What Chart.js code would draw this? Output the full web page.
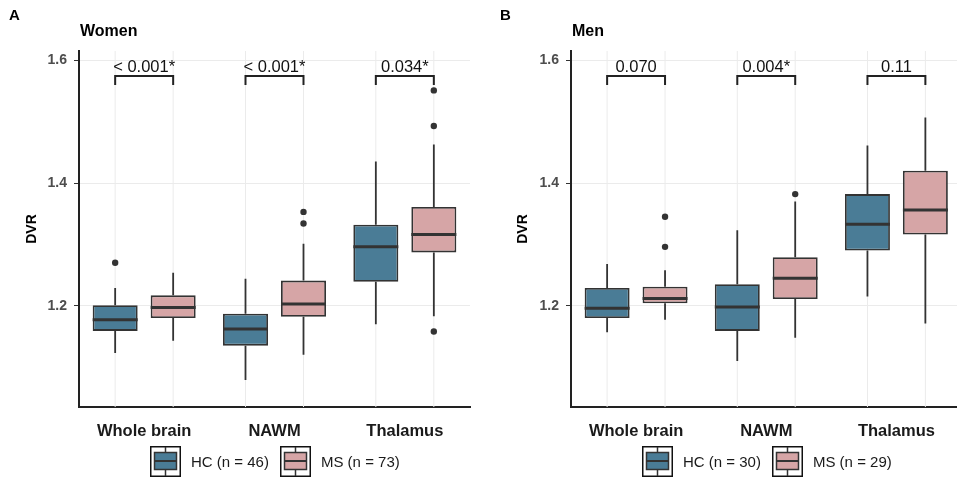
<!DOCTYPE html>
<html>
<head>
<meta charset="utf-8">
<script src="https://cdn.jsdelivr.net/npm/chart.js@4/dist/chart.umd.min.js"></script>
<style>
  body { margin: 0; background: #fff; font-family: "Liberation Sans", Arial, sans-serif; }
  #wrap { position: relative; width: 957px; height: 477px; overflow: hidden; background: #fff; }
  canvas { position: absolute; top: 0; }
  .lbl { position: absolute; font-weight: bold; color: #000; white-space: nowrap; }
  .legend { position: absolute; top: 446px; display: flex; align-items: center; font-size: 15px; color: #1a1a1a; }
  .legend svg { display: block; margin-right: 10px; }
  .legend span { margin-right: 11px; }
</style>
</head>
<body>
<div id="wrap">
  <canvas id="c1" width="478" height="477" style="left:0"></canvas>
  <canvas id="c2" width="490" height="477" style="left:478px"></canvas>
  <div class="lbl" style="left:9px;top:6px;font-size:15px">A</div>
  <div class="lbl" style="left:80px;top:22px;font-size:16px">Women</div>
  <div class="lbl" style="left:500px;top:6px;font-size:15px">B</div>
  <div class="lbl" style="left:572px;top:22px;font-size:16px">Men</div>
  <div class="legend" id="leg1" style="left:150px"></div>
  <div class="legend" id="leg2" style="left:642px"></div>
</div>
<script>
const categories = ['Whole brain', 'NAWM', 'Thalamus'];
const yTicks = [1.2, 1.4, 1.6];

// five-number summaries: [lower whisker, Q1, median, Q3, upper whisker]
const womenHC = [[1.123, 1.159, 1.177, 1.201, 1.229], [1.079, 1.135, 1.162, 1.187, 1.244], [1.170, 1.239, 1.296, 1.332, 1.435]];
const womenMS = [[1.143, 1.180, 1.197, 1.217, 1.254], [1.120, 1.182, 1.203, 1.241, 1.301], [1.183, 1.287, 1.316, 1.361, 1.463]];
const womenHCOut = [[1.270], [], []];
const womenMSOut = [[], [1.353, 1.334], [1.551, 1.493, 1.158]];
const womenP = ['< 0.001*', '< 0.001*', '0.034*'];
const womenN = ['HC (n = 46)', 'MS (n = 73)'];

const menHC = [[1.157, 1.180, 1.196, 1.229, 1.268], [1.110, 1.159, 1.198, 1.235, 1.323], [1.215, 1.290, 1.333, 1.382, 1.461]];
const menMS = [[1.177, 1.204, 1.212, 1.231, 1.258], [1.148, 1.211, 1.245, 1.279, 1.370], [1.171, 1.316, 1.356, 1.420, 1.507]];
const menHCOut = [[], [], []];
const menMSOut = [[1.345, 1.296], [1.382], []];
const menP = ['0.070', '0.004*', '0.11'];
const menN = ['HC (n = 30)', 'MS (n = 29)'];

const bracketY = 1.5744, bracketLeg = 1.5597;
const colHC = '#4a7c96', colMS = '#d6a5a6', ink = '#333333';

const boxPlugin = {
  id: 'boxparts',
  beforeDatasetsDraw(chart) {
    const ctx = chart.ctx, a = chart.chartArea, y = chart.scales.y;
    const st = chart.options.plugins.boxparts;
    ctx.save();
    // vertical grid lines at each box
    ctx.strokeStyle = '#ebebeb'; ctx.lineWidth = 1;
    chart.data.datasets.forEach((ds, i) => {
      chart.getDatasetMeta(i).data.forEach(bar => {
        ctx.beginPath(); ctx.moveTo(bar.x, a.top); ctx.lineTo(bar.x, a.bottom); ctx.stroke();
      });
    });
    // whiskers
    ctx.strokeStyle = ink; ctx.lineWidth = 1.8;
    st.stats.forEach((groups, i) => {
      const meta = chart.getDatasetMeta(i);
      groups.forEach((s, j) => {
        const x = meta.data[j].x;
        ctx.beginPath();
        ctx.moveTo(x, y.getPixelForValue(s[0])); ctx.lineTo(x, y.getPixelForValue(s[1]));
        ctx.moveTo(x, y.getPixelForValue(s[3])); ctx.lineTo(x, y.getPixelForValue(s[4]));
        ctx.stroke();
      });
    });
    ctx.restore();
  },
  afterDatasetsDraw(chart) {
    const ctx = chart.ctx, y = chart.scales.y;
    const st = chart.options.plugins.boxparts;
    ctx.save();
    st.stats.forEach((groups, i) => {
      const meta = chart.getDatasetMeta(i);
      groups.forEach((s, j) => {
        const bar = meta.data[j];
        const ym = y.getPixelForValue(s[2]);
        ctx.strokeStyle = ink; ctx.lineWidth = 3;
        ctx.beginPath(); ctx.moveTo(bar.x - bar.width / 2, ym); ctx.lineTo(bar.x + bar.width / 2, ym); ctx.stroke();
        ctx.fillStyle = ink;
        st.outliers[i][j].forEach(v => {
          ctx.beginPath(); ctx.arc(bar.x, y.getPixelForValue(v), 3.2, 0, Math.PI * 2); ctx.fill();
        });
      });
    });
    // significance brackets
    const m0 = chart.getDatasetMeta(0), m1 = chart.getDatasetMeta(1);
    const yb = y.getPixelForValue(bracketY), yl = y.getPixelForValue(bracketLeg);
    ctx.strokeStyle = '#222'; ctx.lineWidth = 2;
    ctx.fillStyle = '#111';
    ctx.font = '16.5px "Liberation Sans", Arial, sans-serif';
    ctx.textAlign = 'center'; ctx.textBaseline = 'alphabetic';
    st.pvals.forEach((p, j) => {
      const x0 = m0.data[j].x, x1 = m1.data[j].x;
      ctx.beginPath();
      ctx.moveTo(x0, yl); ctx.lineTo(x0, yb); ctx.lineTo(x1, yb); ctx.lineTo(x1, yl);
      ctx.stroke();
      ctx.fillText(p, (x0 + x1) / 2, yb - 4);
    });
    ctx.restore();
  }
};

function makePanel(id, hc, ms, hcOut, msOut, pvals, names, axisW, padRight, titlePad) {
  return new Chart(document.getElementById(id), {
    type: 'bar',
    data: {
      labels: categories,
      datasets: [
        { label: names[0], data: hc.map(s => [s[1], s[3]]), backgroundColor: colHC },
        { label: names[1], data: ms.map(s => [s[1], s[3]]), backgroundColor: colMS }
      ]
    },
    options: {
      responsive: false,
      animation: false,
      events: [],
      datasets: { bar: { borderColor: ink, borderWidth: 1.8, borderSkipped: false, categoryPercentage: 0.89, barPercentage: 0.776 } },
      layout: { padding: { top: 51, left: 0, right: padRight, bottom: 0 } },
      plugins: {
        legend: { display: false },
        tooltip: { enabled: false },
        boxparts: { stats: [hc, ms], outliers: [hcOut, msOut], pvals: pvals }
      },
      scales: {
        x: {
          grid: { display: false, drawTicks: false },
          border: { display: true, color: '#222', width: 2 },
          ticks: { color: '#1a1a1a', padding: 15, font: { family: '"Liberation Sans", Arial, sans-serif', size: 16.5, weight: 'bold' } },
          afterFit: s => { s.height = 70; }
        },
        y: {
          min: 1.035, max: 1.6152,
          afterBuildTicks: s => { s.ticks = yTicks.map(v => ({ value: v })); },
          grid: { color: '#ebebeb', lineWidth: 1, tickColor: '#333', tickLength: 5 },
          border: { display: true, color: '#222', width: 2 },
          ticks: { color: '#4d4d4d', padding: 7, font: { family: '"Liberation Sans", Arial, sans-serif', size: 14, weight: 'bold' }, callback: v => v.toFixed(1) },
          title: { display: true, text: 'DVR', color: '#000', padding: { top: titlePad, bottom: 0 }, font: { family: '"Liberation Sans", Arial, sans-serif', size: 14, weight: 'bold' } },
          afterFit: s => { s.width = axisW; }
        }
      }
    },
    plugins: [boxPlugin]
  });
}

makePanel('c1', womenHC, womenMS, womenHCOut, womenMSOut, womenP, womenN, 79, 8, 23.6);
makePanel('c2', menHC, menMS, menHCOut, menMSOut, menP, menN, 93, 6.5, 36.6);

function keyIcon(color) {
  return '<svg width="31" height="31" viewBox="0 0 31 31">' +
    '<rect x="0.75" y="0.75" width="29.5" height="29.5" fill="#fff" stroke="#111" stroke-width="1.5"/>' +
    '<line x1="15.5" y1="1" x2="15.5" y2="30" stroke="#333" stroke-width="1.5"/>' +
    '<rect x="4.5" y="6.5" width="22" height="17" fill="' + color + '" stroke="#333" stroke-width="1.5"/>' +
    '<line x1="4.5" y1="15" x2="26.5" y2="15" stroke="#333" stroke-width="2"/></svg>';
}
function fillLegend(id, names) {
  document.getElementById(id).innerHTML =
    keyIcon(colHC) + '<span>' + names[0] + '</span>' + keyIcon(colMS) + '<span>' + names[1] + '</span>';
}
fillLegend('leg1', womenN);
fillLegend('leg2', menN);
</script>
</body>
</html>
